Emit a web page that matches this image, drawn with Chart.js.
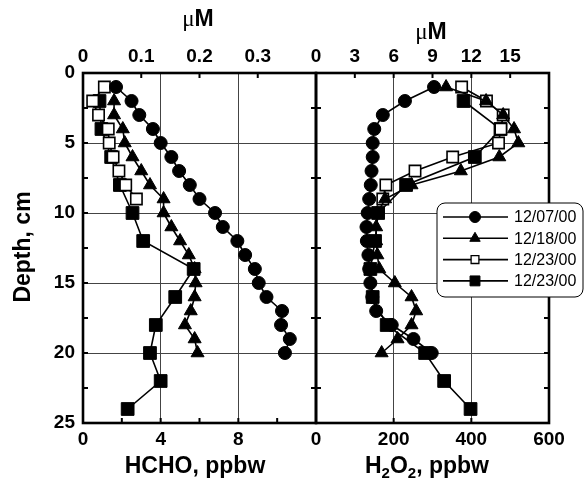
<!DOCTYPE html>
<html>
<head>
<meta charset="utf-8">
<script src="https://cdn.jsdelivr.net/npm/chart.js@4/dist/chart.umd.min.js"></script>
<style>
  body { margin: 0; background: #fff; }
  #wrap { position: relative; width: 585px; height: 486px; overflow: hidden; }
  #hchoChart { position: absolute; left: 0; top: 0; }
  #h2o2Chart { position: absolute; left: 300px; top: 0; }
</style>
</head>
<body>
<div id="wrap">
  <canvas id="hchoChart" width="330" height="486"></canvas>
  <canvas id="h2o2Chart" width="285" height="486"></canvas>
</div>
<script>
// depth grids (cm) used by the profiles
const depthAll = [1, 2, 3, 4, 5, 6, 7, 8, 9, 10, 11, 12, 13, 14, 15, 16, 17, 18, 19, 20]
const depthFrom2 = [2, 3, 4, 5, 6, 7, 8, 9, 10, 11, 12, 13, 14, 15, 16, 17, 18, 19, 20]
const depthTop9 = [1, 2, 3, 4, 5, 6, 7, 8, 9]
const depthEven = [2, 4, 6, 8, 10, 12, 14, 16, 18, 20, 22, 24]

const seriesLabels = ['12/07/00', '12/18/00', '12/23/00', '12/23/00']

// HCHO, ppbw
const hcho1207 = [1.7, 2.5, 2.9, 3.6, 4.0, 4.55, 4.95, 5.5, 6.0, 6.8, 7.2, 7.95, 8.35, 8.85, 9.05, 9.45, 10.25, 10.2, 10.65, 10.4]
const hcho1218 = [1.6, 1.6, 2.05, 2.15, 2.55, 3.0, 3.45, 4.15, 4.15, 4.55, 5.0, 5.45, 5.75, 5.8, 5.75, 5.55, 5.25, 5.75, 5.9]
const hcho1223open = [1.1, 0.5, 0.8, 1.3, 1.35, 1.55, 1.85, 2.2, 2.75]
const hcho1223solid = [0.85, 0.95, 1.45, 1.9, 2.55, 3.1, 5.7, 4.75, 3.75, 3.45, 4.0, 2.3]

// H2O2, ppbw
const h2o21207 = [304, 229, 172, 150, 146, 146, 143, 141, 137, 133, 130, 131, 135, 137, 140, 145, 155, 195, 251, 298]
const h2o21218 = [335, 438, 482, 510, 521, 472, 373, 246, 178, 158, 155, 155, 158, 163, 203, 246, 258, 246, 210, 169]
const h2o21223open = [375, 439, 482, 476, 470, 352, 255, 180, 172]
const h2o21223solid = [380, 475, 409, 232, 160, 152, 140, 146, 182, 281, 330, 398]

// tick labels
const hchoTicks = [0, 4, 8]
const hchoMolarTicks = [0, 0.1, 0.2, 0.3]
const h2o2Ticks = [0, 200, 400, 600]
const h2o2MolarTicks = [0, 3, 6, 9, 12, 15]
const depthGridLines = [5, 10, 15, 20]

const markerStyles = ['circle', 'triangle', 'rect', 'rect']
const markerRadius = [6.5, 7.5, 8, 9]
const markerFill = ['#000', '#000', '#fff', '#000']

const SANS = "'Liberation Sans', Arial, Helvetica, sans-serif"
const SERIF = "'Liberation Serif', 'Times New Roman', serif"
Chart.defaults.font.family = SANS
Chart.defaults.color = '#000'

const tickFont = { family: SANS, size: 19, weight: 'bold' }
const gridGray = '#444'

function profile(depths, values, i) {
  return {
    label: seriesLabels[i],
    data: depths.map((d, k) => ({ x: values[k], y: d })),
    showLine: true,
    borderColor: '#000',
    borderWidth: 1.6,
    pointStyle: markerStyles[i],
    pointRadius: markerRadius[i],
    pointHoverRadius: markerRadius[i],
    pointBackgroundColor: markerFill[i],
    pointBorderColor: '#000',
    pointBorderWidth: i === 2 ? 1.6 : 1
  }
}

function setTicks(values) {
  return scale => { scale.ticks = values.map(v => ({ value: v })) }
}

function gridAt(values) {
  return c => values.includes(c.tick.value) ? gridGray : 'rgba(0,0,0,0)'
}

// draws a row of text runs (for sub/superscripts and mixed fonts) centred on cx
function drawRuns(ctx, runs, cx, baseline) {
  let total = 0
  runs.forEach(r => { ctx.font = r.font; total += ctx.measureText(r.text).width })
  let x = cx - total / 2
  ctx.textAlign = 'left'
  ctx.textBaseline = 'alphabetic'
  runs.forEach(r => {
    ctx.font = r.font
    ctx.fillText(r.text, x, baseline + (r.dy || 0))
    x += ctx.measureText(r.text).width
  })
}

function drawMarker(ctx, style, x, y, r, fill) {
  ctx.fillStyle = fill
  ctx.beginPath()
  if (style === 'circle') {
    ctx.arc(x, y, r, 0, Math.PI * 2)
  } else if (style === 'triangle') {
    ctx.moveTo(x, y - r)
    ctx.lineTo(x + r * 0.866, y + r * 0.5)
    ctx.lineTo(x - r * 0.866, y + r * 0.5)
    ctx.closePath()
  } else {
    const s = r * Math.SQRT1_2
    ctx.rect(x - s, y - s, 2 * s, 2 * s)
  }
  ctx.fill()
  ctx.stroke()
}

const boldTitle = 'bold 23px ' + SANS
const subFont = 'bold 15px ' + SANS
const muFont = '23px ' + SERIF

// frame, inward tick marks, axis titles and the legend box
const panelDecor = {
  id: 'panelDecor',
  afterDraw(chart, args, opts) {
    const { ctx, chartArea: a, scales } = chart
    const len = 5
    ctx.save()
    ctx.strokeStyle = '#000'
    ctx.fillStyle = '#000'
    ctx.lineWidth = 2
    ctx.beginPath()
    opts.marks.forEach(m => {
      const s = scales[m.scale]
      m.values.forEach(v => {
        const p = s.getPixelForValue(v)
        if (m.side === 'bottom') { ctx.moveTo(p, a.bottom); ctx.lineTo(p, a.bottom - len) }
        if (m.side === 'top') { ctx.moveTo(p, a.top); ctx.lineTo(p, a.top + len) }
        if (m.side === 'left') { ctx.moveTo(a.left, p); ctx.lineTo(a.left + len, p) }
        if (m.side === 'right') { ctx.moveTo(a.right, p); ctx.lineTo(a.right - len, p) }
      })
    })
    ctx.stroke()

    ctx.lineWidth = 2.6
    ctx.strokeRect(a.left, a.top, a.right - a.left, a.bottom - a.top)

    opts.titles.forEach(t => {
      ctx.fillStyle = '#000'
      if (t.rotate) {
        ctx.save()
        ctx.translate(t.x, t.y)
        ctx.rotate(-Math.PI / 2)
        drawRuns(ctx, t.runs, 0, 0)
        ctx.restore()
      } else {
        drawRuns(ctx, t.runs, t.x, t.y)
      }
    })

    const lg = opts.legend
    if (lg) {
      ctx.lineWidth = 1
      ctx.fillStyle = '#fff'
      ctx.beginPath()
      ctx.roundRect(lg.x, lg.y, lg.w, lg.h, 8)
      ctx.fill()
      ctx.stroke()
      chart.data.datasets.forEach((ds, i) => {
        const y = lg.y + lg.firstRow + i * lg.rowStep
        ctx.strokeStyle = '#000'
        ctx.lineWidth = 1.6
        ctx.beginPath()
        ctx.moveTo(lg.x + 6, y)
        ctx.lineTo(lg.x + 71, y)
        ctx.stroke()
        ctx.lineWidth = i === 2 ? 1.3 : 1
        drawMarker(ctx, markerStyles[i], lg.x + 38, y, lg.radius[i], markerFill[i])
        ctx.fillStyle = '#000'
        ctx.font = '16px ' + SANS
        ctx.textAlign = 'left'
        ctx.textBaseline = 'middle'
        ctx.fillText(ds.label, lg.x + 77, y + 1)
      })
    }
    ctx.restore()
  }
}

function depthScale(showLabels, width) {
  return {
    min: 0, max: 25, reverse: true,
    ticks: { stepSize: 5, display: showLabels, font: tickFont, padding: 8 },
    grid: { drawTicks: false, color: gridAt(depthGridLines), lineWidth: 1 },
    border: { display: false },
    afterFit: s => { s.width = width }
  }
}

function bottomScale(max, ticks) {
  return {
    type: 'linear', position: 'bottom', min: 0, max: max,
    afterBuildTicks: setTicks(ticks),
    ticks: { font: tickFont, padding: 5, autoSkip: false, maxRotation: 0, callback: v => String(v) },
    grid: { drawTicks: false, color: gridAt(ticks.slice(1, -1).concat(ticks.length === 3 ? [ticks[2]] : [])), lineWidth: 1 },
    border: { display: false },
    afterFit: s => { s.height = 63 }
  }
}

function topScale(max, ticks) {
  return {
    type: 'linear', position: 'top', min: 0, max: max,
    afterBuildTicks: setTicks(ticks),
    ticks: { font: tickFont, padding: 5, autoSkip: false, maxRotation: 0, callback: v => String(v) },
    grid: { display: false, drawTicks: false },
    border: { display: false },
    afterFit: s => { s.height = 73 }
  }
}

const halfSteps = [2.5, 7.5, 12.5, 17.5, 22.5]
const quarterSteps = [2.5, 5, 7.5, 10, 12.5, 15, 17.5, 20, 22.5]

new Chart(document.getElementById('hchoChart'), {
  type: 'scatter',
  data: {
    datasets: [
      profile(depthAll, hcho1207, 0),
      profile(depthFrom2, hcho1218, 1),
      profile(depthTop9, hcho1223open, 2),
      profile(depthEven, hcho1223solid, 3)
    ]
  },
  options: {
    responsive: false,
    animation: false,
    layout: { padding: { left: 0, right: 14, top: 0, bottom: 0 } },
    scales: {
      x: bottomScale(12, hchoTicks),
      xTop: topScale(0.4, hchoMolarTicks),
      y: depthScale(true, 83)
    },
    plugins: {
      legend: { display: false },
      tooltip: { enabled: false },
      panelDecor: {
        marks: [
          { scale: 'x', side: 'bottom', values: [2, 4, 6, 8, 10] },
          { scale: 'xTop', side: 'top', values: [0.1, 0.2, 0.3] },
          { scale: 'y', side: 'left', values: quarterSteps },
          { scale: 'y', side: 'right', values: halfSteps }
        ],
        titles: [
          { x: 30, y: 247, rotate: true, runs: [{ text: 'Depth, cm', font: boldTitle }] },
          { x: 195, y: 473, runs: [{ text: 'HCHO, ppbw', font: boldTitle }] },
          { x: 198, y: 26, runs: [{ text: 'μ', font: muFont }, { text: 'M', font: boldTitle }] }
        ]
      }
    }
  },
  plugins: [panelDecor]
})

new Chart(document.getElementById('h2o2Chart'), {
  type: 'scatter',
  data: {
    datasets: [
      profile(depthAll, h2o21207, 0),
      profile(depthAll, h2o21218, 1),
      profile(depthTop9, h2o21223open, 2),
      profile(depthEven, h2o21223solid, 3)
    ]
  },
  options: {
    responsive: false,
    animation: false,
    layout: { padding: { left: 0, right: 36, top: 0, bottom: 0 } },
    scales: {
      x: bottomScale(600, h2o2Ticks),
      xTop: topScale(18, h2o2MolarTicks),
      y: depthScale(false, 16)
    },
    plugins: {
      legend: { display: false },
      tooltip: { enabled: false },
      panelDecor: {
        marks: [
          { scale: 'x', side: 'bottom', values: [200, 400] },
          { scale: 'xTop', side: 'top', values: [3, 6, 9, 12, 15] },
          { scale: 'y', side: 'left', values: halfSteps },
          { scale: 'y', side: 'right', values: quarterSteps }
        ],
        titles: [
          { x: 127, y: 473, runs: [
            { text: 'H', font: boldTitle },
            { text: '2', font: subFont, dy: 5 },
            { text: 'O', font: boldTitle },
            { text: '2', font: subFont, dy: 5 },
            { text: ', ppbw', font: boldTitle }
          ] },
          { x: 131, y: 39, runs: [{ text: 'μ', font: muFont }, { text: 'M', font: boldTitle }] }
        ],
        legend: { x: 137, y: 203, w: 146, h: 94, firstRow: 14, rowStep: 21.3, radius: [5.5, 6, 5.5, 7] }
      }
    }
  },
  plugins: [panelDecor]
})
</script>
</body>
</html>
